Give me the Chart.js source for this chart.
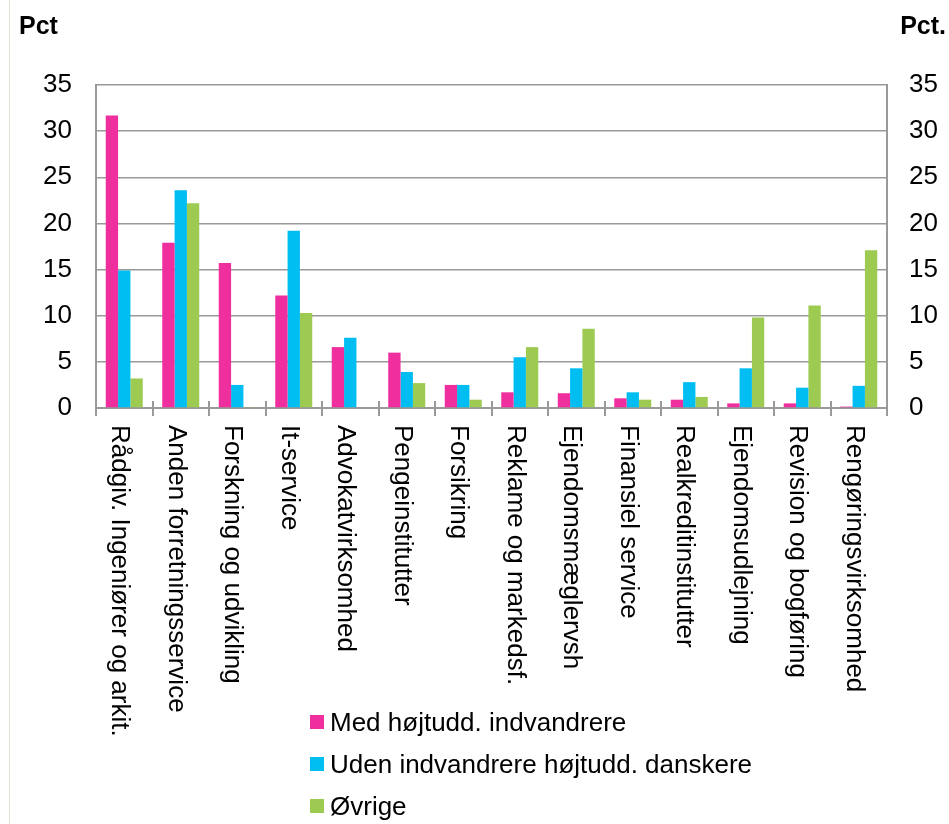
<!DOCTYPE html>
<html>
<head>
<meta charset="utf-8">
<script src="https://cdn.jsdelivr.net/npm/chart.js@4.4.1/dist/chart.umd.min.js"></script>
<style>
  html, body { margin: 0; padding: 0; background: #fff; }
  #wrap { position: relative; width: 949px; height: 824px; overflow: hidden; font-family: "Liberation Sans", Arial, sans-serif; }
  #frame { position: absolute; left: 9px; top: 0; width: 1px; height: 824px; background: #e6dfd6; }
  canvas { position: absolute; left: 0; top: 0; }
  .unit { position: absolute; top: 13px; font-size: 25px; line-height: 25px; font-weight: bold; color: #000; }
  #unitLeft { left: 19px; }
  #unitRight { right: 3px; }
  #legend { position: absolute; left: 310px; top: 701px; margin: 0; padding: 0; list-style: none; }
  #legend li { display: flex; align-items: center; height: 42px; font-size: 26px; color: #000; white-space: nowrap; }
  #legend .box { width: 14px; height: 14px; margin-right: 6px; flex: none; }
</style>
</head>
<body>
<div id="wrap">
  <div id="frame"></div>
  <canvas id="chart" width="949" height="824"></canvas>
  <div class="unit" id="unitLeft">Pct</div>
  <div class="unit" id="unitRight">Pct.</div>
  <ul id="legend"></ul>
</div>
<script>
const categories = [
  "Rådgiv. Ingeniører og arkit.",
  "Anden forretningsservice",
  "Forskning og udvikling",
  "It-service",
  "Advokatvirksomhed",
  "Pengeinstitutter",
  "Forsikring",
  "Reklame og markedsf.",
  "Ejendomsmæglervsh",
  "Finansiel service",
  "Realkreditinstitutter",
  "Ejendomsudlejning",
  "Revision og bogføring",
  "Rengøringsvirksomhed"
];
const seriesNames = ["Med højtudd. indvandrere", "Uden indvandrere højtudd. danskere", "Øvrige"];
const medIndvandrere = [31.7, 17.9, 15.7, 12.2, 6.6, 6.0, 2.5, 1.7, 1.6, 1.05, 0.9, 0.5, 0.5, 0.15];
const udenIndvandrere = [14.9, 23.6, 2.5, 19.2, 7.6, 3.9, 2.5, 5.5, 4.3, 1.7, 2.8, 4.3, 2.2, 2.4];
const oevrige = [3.2, 22.2, 0.1, 10.3, 0, 2.7, 0.9, 6.6, 8.6, 0.9, 1.2, 9.8, 11.1, 17.1];
const yTicks = [0, 5, 10, 15, 20, 25, 30, 35];

const colors = ["#ef2f9e", "#00bdf2", "#9dcb52"];
const fontFamily = '"Liberation Sans", Arial, sans-serif';
const axisGrey = "#999999";

// category labels run top-to-bottom under the axis, Chart.js can only rotate the other way
const categoryLabels = {
  id: "categoryLabels",
  afterDraw(chart) {
    const ctx = chart.ctx;
    const x = chart.scales.x;
    ctx.save();
    ctx.strokeStyle = axisGrey;
    ctx.lineWidth = 2;
    const step = (x.right - x.left) / categories.length;
    for (let i = 0; i <= categories.length; i++) {
      const px = Math.round(x.left + i * step);
      ctx.beginPath();
      ctx.moveTo(px, x.top - 7);
      ctx.lineTo(px, x.top);
      ctx.stroke();
    }
    ctx.font = "26px " + fontFamily;
    ctx.fillStyle = "#000";
    ctx.textAlign = "left";
    ctx.textBaseline = "middle";
    categories.forEach((label, i) => {
      ctx.save();
      ctx.translate(x.getPixelForValue(i) - 5, x.top + 17);
      ctx.rotate(Math.PI / 2);
      ctx.fillText(label, 0, 0);
      ctx.restore();
    });
    ctx.restore();
  }
};

function yAxis(position, padding, width) {
  return {
    position: position,
    min: 0,
    max: 35,
    afterBuildTicks: (s) => { s.ticks = yTicks.map(v => ({ value: v })); },
    ticks: { padding: padding, color: "#000", font: { size: 26, family: fontFamily } },
    grid: { color: axisGrey, lineWidth: 1.5, drawTicks: false, drawOnChartArea: position === "left" },
    border: { display: true, color: axisGrey, width: 2 },
    afterFit: (s) => { s.width = width; }
  };
}

const chart = new Chart(document.getElementById("chart"), {
  type: "bar",
  data: {
    labels: categories,
    datasets: [
      { label: seriesNames[0], data: medIndvandrere, backgroundColor: colors[0], yAxisID: "y" },
      { label: seriesNames[1], data: udenIndvandrere, backgroundColor: colors[1], yAxisID: "y" },
      { label: seriesNames[2], data: oevrige, backgroundColor: colors[2], yAxisID: "y" }
    ]
  },
  options: {
    responsive: false,
    animation: false,
    layout: { padding: { top: 85, left: 0, right: 0, bottom: 0 } },
    datasets: { bar: { barPercentage: 1.0, categoryPercentage: 0.655 } },
    plugins: { legend: { display: false }, tooltip: { enabled: false } },
    scales: {
      x: {
        ticks: { display: false },
        grid: { offset: true, drawOnChartArea: false, drawTicks: true, tickLength: 8, color: axisGrey, lineWidth: 2 },
        border: { display: true, color: axisGrey, width: 2 },
        afterFit: (s) => { s.height = 416; }
      },
      y: yAxis("left", 24, 96),
      y2: yAxis("right", 22, 62)
    }
  },
  plugins: [categoryLabels]
});

const legend = document.getElementById("legend");
chart.data.datasets.forEach((ds) => {
  const li = document.createElement("li");
  const box = document.createElement("span");
  box.className = "box";
  box.style.background = ds.backgroundColor;
  li.appendChild(box);
  li.appendChild(document.createTextNode(ds.label));
  legend.appendChild(li);
});
</script>
</body>
</html>
